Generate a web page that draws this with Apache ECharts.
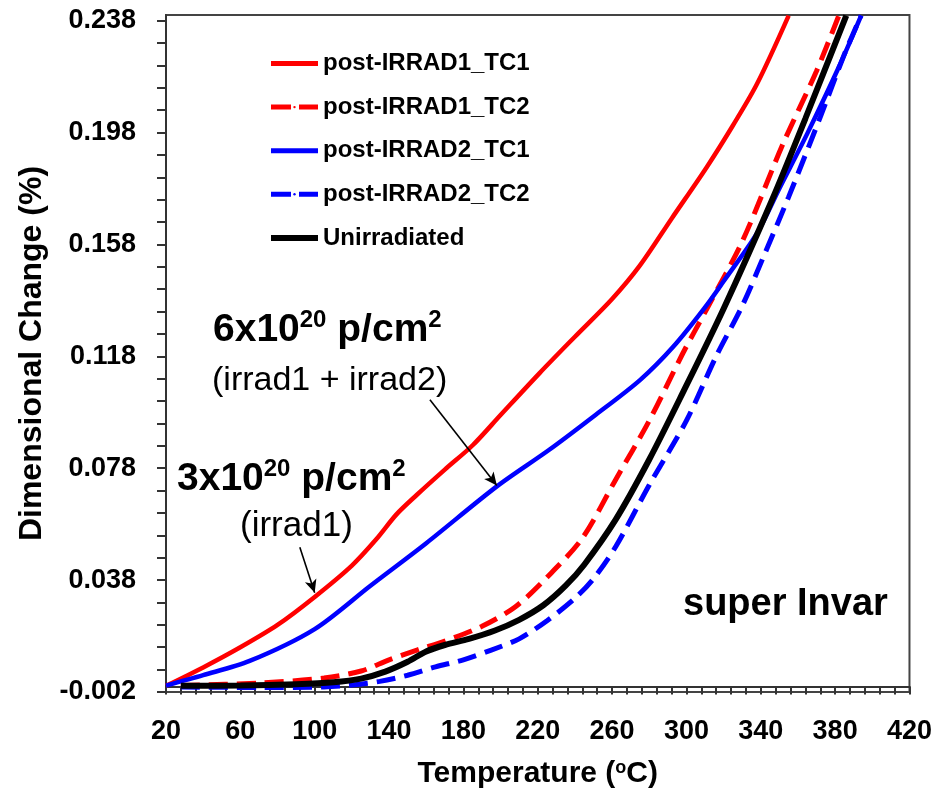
<!DOCTYPE html>
<html><head><meta charset="utf-8">
<script src="https://cdn.jsdelivr.net/npm/echarts@6/dist/echarts.min.js"></script>
<style>html,body{margin:0;padding:0;background:#fff}#c{width:935px;height:798px}</style>
</head><body><div id="c"></div>
<script>
// ---- data (temperature in °C, dimensional change in %) ----
const tRed1 = [20, 40, 60, 80, 100, 120, 133, 144, 155, 170, 185, 200, 221, 240, 260, 275, 292, 311, 325, 338, 355];
const vRed1 = [0.0002, 0.0068, 0.0140, 0.0220, 0.0320, 0.0432, 0.0525, 0.0615, 0.0685, 0.0775, 0.0862, 0.0970, 0.1120, 0.1250, 0.1385, 0.1505, 0.1672, 0.1857, 0.2005, 0.2154, 0.2398];

const tRed2 = [28, 70, 105, 125, 140, 155, 170, 190, 208, 225, 244, 262, 280, 298, 311, 330, 352, 370, 382];
const vRed2 = [0.0003, 0.0012, 0.0030, 0.0055, 0.0095, 0.0130, 0.0162, 0.0215, 0.0285, 0.0390, 0.0530, 0.0740, 0.0950, 0.1190, 0.1350, 0.1590, 0.1940, 0.2200, 0.2398];

const tBlue1 = [20, 40, 65, 100, 130, 160, 198, 226, 250, 275, 293, 310, 320, 338, 350, 365, 382, 394];
const vBlue1 = [0.0003, 0.0040, 0.0091, 0.0205, 0.0360, 0.0512, 0.0715, 0.0845, 0.0965, 0.1095, 0.1215, 0.1355, 0.1448, 0.1620, 0.1780, 0.1976, 0.2214, 0.2398];

const tBlue2 = [28, 70, 105, 120, 135, 150, 165, 180, 195, 210, 225, 240, 250, 262, 280, 300, 316, 330, 343, 355, 372, 385, 394];
const vBlue2 = [-0.0002, -0.0004, -0.0002, 0.0005, 0.0018, 0.0040, 0.0070, 0.0095, 0.0130, 0.0170, 0.0235, 0.0315, 0.0385, 0.0500, 0.0720, 0.0950, 0.1180, 0.1360, 0.1560, 0.1750, 0.2035, 0.2260, 0.2398];

const tBlack = [28, 60, 90, 110, 125, 138, 150, 160, 170, 183, 197, 210, 223, 235, 245, 262, 280, 298, 320, 346, 364, 386];
const vBlack = [0.0002, 0.0003, 0.0008, 0.0015, 0.0028, 0.0053, 0.0088, 0.0125, 0.0148, 0.0170, 0.0200, 0.0238, 0.0290, 0.0360, 0.0435, 0.0597, 0.0811, 0.1049, 0.1350, 0.1738, 0.2030, 0.2398];

const seriesNames = ['post-IRRAD1_TC1', 'post-IRRAD1_TC2', 'post-IRRAD2_TC1', 'post-IRRAD2_TC2', 'Unirradiated'];

const xLabelValues = [20, 60, 100, 140, 180, 220, 260, 300, 340, 380, 420];
const yLabelValues = [-0.002, 0.038, 0.078, 0.118, 0.158, 0.198, 0.238];

// arrows (data coordinates): [start, end]
const arrow1 = [[92, 0.0497], [100, 0.0335]];
const arrow2 = [[162, 0.1025], [198, 0.0718]];

// ---- helpers ----
const SANS = "'Liberation Sans', Arial, sans-serif";
const DASH = [19, 9];
function zip(t, v) { return t.map((x, i) => [x, v[i]]); }
const xTickValues = [];
for (let x = 20; x <= 420; x += 8) xTickValues.push(x);
const yTickValues = [];
for (let i = 0; i <= 30; i++) yTickValues.push(+(-0.002 + i * 0.008).toFixed(3));

const chart = echarts.init(document.getElementById('c'), null, {renderer: 'canvas'});

function lineSeries(name, data, color, width, dashed, z) {
  return {
    name, type: 'line', data, symbol: 'none', showSymbol: false, smooth: 0.3,
    clip: true, z,
    lineStyle: {color, width, type: dashed ? DASH : 'solid', cap: 'butt'},
    itemStyle: {color}
  };
}

const s1 = lineSeries(seriesNames[0], zip(tRed1, vRed1), '#ff0000', 4.5, false, 2);
s1.markLine = {
  silent: true, animation: false,
  symbol: ['none', 'arrow'], symbolSize: [9, 13],
  label: {show: false},
  lineStyle: {color: '#000', width: 1.6, type: 'solid'},
  data: [
    [{coord: arrow1[0]}, {coord: arrow1[1]}],
    [{coord: arrow2[0]}, {coord: arrow2[1]}]
  ]
};

const legendDashed = [false, true, false, true, false];
const option = {
  animation: false,
  backgroundColor: '#fff',
  grid: {left: 166, right: 25, top: 15, bottom: 106, show: true, borderColor: '#444', borderWidth: 2, backgroundColor: 'transparent'},
  legend: {
    orient: 'vertical', left: 268, top: 48.5, padding: 0,
    itemWidth: 47, itemHeight: 3, itemGap: 13.6,
    data: seriesNames.map((n, i) => ({name: n, lineStyle: {width: i === 4 ? 6 : 5, type: legendDashed[i] ? [20, 8] : 'solid'}})),
    lineStyle: {width: 5},
    textStyle: {fontFamily: SANS, fontWeight: 'bold', fontSize: 24, color: '#000', lineHeight: 30},
    selectedMode: false
  },
  xAxis: {
    type: 'value', min: 20, max: 420,
    name: '{a|Temperature (}{s|o}{a|C)}',
    nameLocation: 'middle', nameGap: 65,
    nameTextStyle: {
      rich: {
        a: {fontFamily: SANS, fontWeight: 'bold', fontSize: 30, color: '#000', lineHeight: 34},
        s: {fontFamily: SANS, fontWeight: 'bold', fontSize: 18, color: '#000', lineHeight: 34, verticalAlign: 'top', padding: [2, 0, 0, 0]}
      }
    },
    axisLine: {show: true, lineStyle: {color: '#333', width: 2}},
    axisTick: {show: true, inside: false, length: 8, customValues: xTickValues, lineStyle: {color: '#333', width: 2}},
    axisLabel: {customValues: xLabelValues, fontFamily: SANS, fontWeight: 'bold', fontSize: 27, color: '#000', margin: 26},
    splitLine: {show: false}
  },
  yAxis: {
    type: 'value', min: -0.002, max: 0.24,
    name: 'Dimensional Change (%)',
    nameLocation: 'middle', nameGap: 117,
    nameTextStyle: {fontFamily: SANS, fontWeight: 'bold', fontSize: 32, color: '#000'},
    axisLine: {show: true, lineStyle: {color: '#333', width: 2}},
    axisTick: {show: true, inside: false, length: 9, customValues: yTickValues, lineStyle: {color: '#333', width: 2}},
    axisLabel: {customValues: yLabelValues, fontFamily: SANS, fontWeight: 'bold', fontSize: 27, color: '#000', margin: 30,
      formatter: v => v.toFixed(3)},
    splitLine: {show: false}
  },
  graphic: [
    {type: 'text', left: 213, top: 308, z: 10, style: {
      text: '{b|6x10}{s|20}{b| p/cm}{s|2}', fill: '#000',
      rich: {b: {fontFamily: SANS, fontWeight: 'bold', fontSize: 39, lineHeight: 44, fill: '#000'},
             s: {fontFamily: SANS, fontWeight: 'bold', fontSize: 24, lineHeight: 44, verticalAlign: 'top', fill: '#000'}}}},
    {type: 'text', left: 212, top: 364, z: 10, style: {text: '(irrad1 + irrad2)', font: "34px 'Liberation Sans', Arial, sans-serif", fill: '#000'}},
    {type: 'text', left: 177, top: 457, z: 10, style: {
      text: '{b|3x10}{s|20}{b| p/cm}{s|2}', fill: '#000',
      rich: {b: {fontFamily: SANS, fontWeight: 'bold', fontSize: 39, lineHeight: 44, fill: '#000'},
             s: {fontFamily: SANS, fontWeight: 'bold', fontSize: 24, lineHeight: 44, verticalAlign: 'top', fill: '#000'}}}},
    {type: 'text', left: 240, top: 509, z: 10, style: {text: '(irrad1)', font: "35px 'Liberation Sans', Arial, sans-serif", fill: '#000'}},
    {type: 'text', left: 683, top: 586, z: 10, style: {text: 'super Invar', font: "bold 38px 'Liberation Sans', Arial, sans-serif", fill: '#000'}}
  ],
  series: [
    s1,
    lineSeries(seriesNames[1], zip(tRed2, vRed2), '#ff0000', 5, true, 3),
    lineSeries(seriesNames[2], zip(tBlue1, vBlue1), '#0000ff', 4.5, false, 4),
    lineSeries(seriesNames[3], zip(tBlue2, vBlue2), '#0000ff', 5, true, 5),
    lineSeries(seriesNames[4], zip(tBlack, vBlack), '#000000', 6, false, 6)
  ]
};
chart.setOption(option);
</script></body></html>
